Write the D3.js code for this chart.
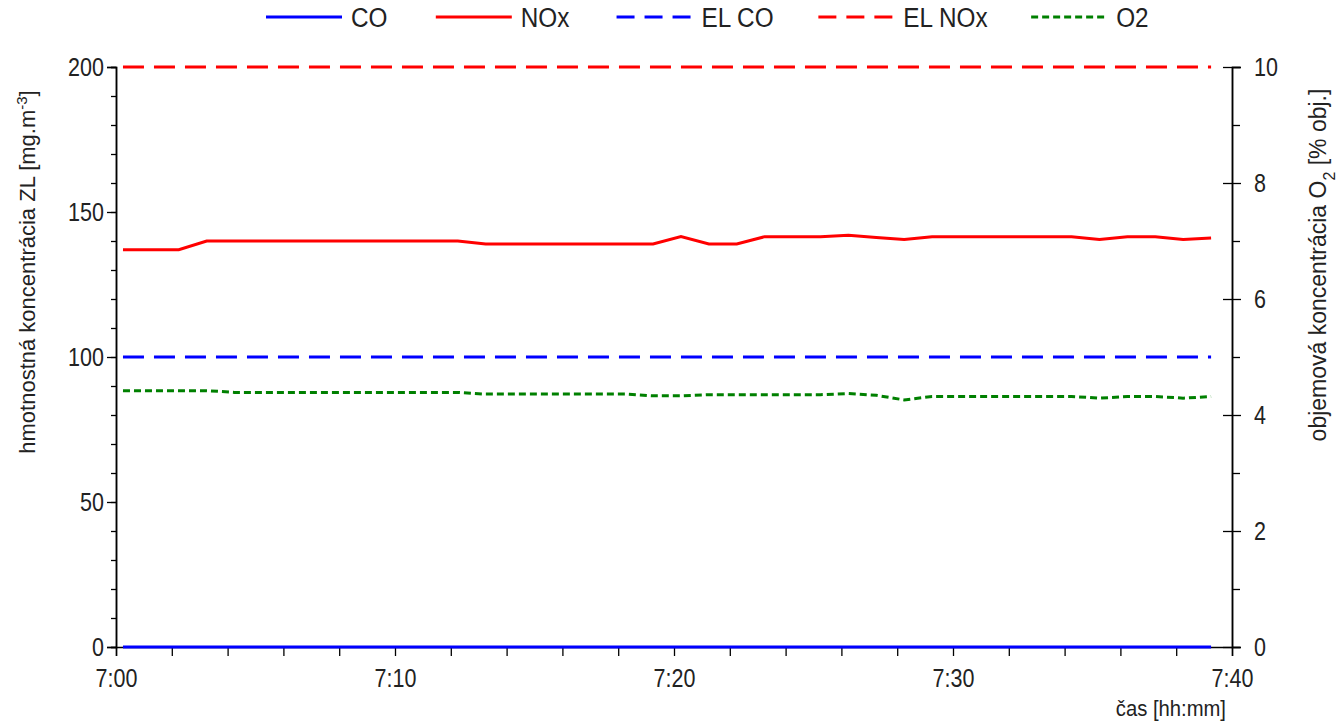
<!DOCTYPE html>
<html>
<head>
<meta charset="utf-8">
<script src="https://cdn.jsdelivr.net/npm/d3@7"></script>
<style>
  body { margin: 0; background: #fff; }
  svg text { font-family: "Liberation Sans Narrow", "Arial Narrow", "Liberation Sans", Arial, sans-serif; fill: #222; }
</style>
</head>
<body>
<svg id="chart" width="1338" height="724"></svg>
<script>
'use strict';

// Measurement times (one reading per minute)
var times = [
    '7:00:15', '7:01:15', '7:02:15', '7:03:15', '7:04:15', '7:05:15', '7:06:15', '7:07:15',
    '7:08:15', '7:09:15', '7:10:15', '7:11:15', '7:12:15', '7:13:15', '7:14:15', '7:15:15',
    '7:16:15', '7:17:15', '7:18:15', '7:19:15', '7:20:15', '7:21:15', '7:22:15', '7:23:15',
    '7:24:15', '7:25:15', '7:26:15', '7:27:15', '7:28:15', '7:29:15', '7:30:15', '7:31:15',
    '7:32:15', '7:33:15', '7:34:15', '7:35:15', '7:36:15', '7:37:15', '7:38:15', '7:39:15'
];

// CO [mg.m-3]
var co = [
    0, 0, 0, 0, 0, 0, 0, 0, 0, 0, 0, 0, 0, 0, 0, 0, 0, 0, 0, 0,
    0, 0, 0, 0, 0, 0, 0, 0, 0, 0, 0, 0, 0, 0, 0, 0, 0, 0, 0, 0
];

// NOx [mg.m-3]
var nox = [
    137, 137, 137, 140, 140, 140, 140, 140, 140, 140,
    140, 140, 140, 139, 139, 139, 139, 139, 139, 139,
    141.5, 139, 139, 141.5, 141.5, 141.5, 142, 141.2, 140.5, 141.5,
    141.5, 141.5, 141.5, 141.5, 141.5, 140.5, 141.5, 141.5, 140.5, 141
];

// O2 [% obj.]
var o2 = [
    4.42, 4.42, 4.42, 4.42, 4.39, 4.39, 4.39, 4.39, 4.39, 4.39,
    4.39, 4.39, 4.39, 4.36, 4.36, 4.36, 4.36, 4.36, 4.36, 4.33,
    4.33, 4.35, 4.35, 4.35, 4.35, 4.35, 4.37, 4.34, 4.26, 4.32,
    4.32, 4.32, 4.32, 4.32, 4.32, 4.29, 4.32, 4.32, 4.29, 4.32
];

// Emission limits
var elCO = 100,
    elNOx = 200;

var legendNames = ['CO', 'NOx', 'EL CO', 'EL NOx', 'O2'];

var leftTicks = [0, 50, 100, 150, 200],
    rightTicks = [0, 2, 4, 6, 8, 10];


var parseTime = d3.timeParse('%H:%M:%S'),
    fmt = d3.timeFormat('%-H:%M');

var svg = d3.select('#chart');

var x = d3.scaleTime()
    .domain([parseTime('7:00:00'), parseTime('7:40:00')])
    .range([116, 1232]);

var yL = d3.scaleLinear().domain([0, 200]).range([647, 67]),
    yR = d3.scaleLinear().domain([0, 10]).range([647, 67]);

var tDates = times.map(parseTime);

var styles = {
    'CO': { color: '#0000ff', dash: null, width: 3 },
    'NOx': { color: '#ff0000', dash: null, width: 3 },
    'EL CO': { color: '#0000ff', dash: '21,10', width: 3 },
    'EL NOx': { color: '#ff0000', dash: '21,10', width: 3 },
    'O2': { color: '#008000', dash: '7,4', width: 3 }
};


/**
 * No narrow font is installed, so squeeze text horizontally.
 */
function squeeze(sel, k) {
    sel.each(function () {
        var len = this.getComputedTextLength();
        if (len > 0) {
            d3.select(this)
                .attr('textLength', len * k)
                .attr('lengthAdjust', 'spacingAndGlyphs');
        }
    });
}


function drawSeries(values, yScale, name) {
    var st = styles[name];
    var line = d3.line()
        .x(function (d, i) { return x(tDates[i]); })
        .y(function (d) { return yScale(d); });

    svg.append('path')
        .datum(values)
        .attr('d', line)
        .attr('fill', 'none')
        .attr('stroke', st.color)
        .attr('stroke-width', st.width)
        .attr('stroke-dasharray', st.dash);
}


// Axes
var fontSize = '25px',
    narrow = 0.86;

svg.append('g')
    .attr('transform', 'translate(0,' + yL(0) + ')')
    .call(d3.axisBottom(x)
        .ticks(d3.timeMinute.every(2))
        .tickSize(9)
        .tickPadding(13)
        .tickFormat(function (d) { return d.getMinutes() % 10 === 0 ? fmt(d) : ''; }));

svg.append('g')
    .attr('transform', 'translate(' + x.range()[0] + ',0)')
    .call(d3.axisLeft(yL).tickValues(d3.range(0, 201, 10)).tickSize(5).tickFormat(''));

svg.append('g')
    .attr('transform', 'translate(' + x.range()[0] + ',0)')
    .call(d3.axisLeft(yL).tickValues(leftTicks).tickSize(9).tickPadding(3));

svg.append('g')
    .attr('transform', 'translate(' + x.range()[1] + ',0)')
    .call(d3.axisRight(yR).tickValues(d3.range(1, 10, 2)).tickSize(8).tickFormat(''));

var rightAxis = svg.append('g')
    .attr('transform', 'translate(' + x.range()[1] + ',0)')
    .call(d3.axisRight(yR).tickValues(rightTicks).tickSize(9).tickPadding(13));

rightAxis.selectAll('.tick line').attr('x1', -9);

svg.selectAll('g').attr('font-family', null).attr('font-size', null);
svg.selectAll('.domain').attr('stroke', '#000').attr('stroke-width', 1.5);
svg.selectAll('.tick line').attr('stroke', '#000').attr('stroke-width', 1.3);
svg.selectAll('.tick text')
    .attr('font-size', fontSize)
    .attr('fill', '#222')
    .call(squeeze, narrow);


// Limit lines
var limitLine = function (value, name) {
    var st = styles[name];
    svg.append('line')
        .attr('x1', x(tDates[0]))
        .attr('x2', x(tDates[tDates.length - 1]))
        .attr('y1', yL(value))
        .attr('y2', yL(value))
        .attr('stroke', st.color)
        .attr('stroke-width', st.width)
        .attr('stroke-dasharray', st.dash);
};

limitLine(elNOx, 'EL NOx');
limitLine(elCO, 'EL CO');
drawSeries(o2, yR, 'O2');
drawSeries(nox, yL, 'NOx');
drawSeries(co, yL, 'CO');


// Axis titles
var leftTitle = svg.append('text')
    .attr('transform', 'translate(35,272) rotate(-90)')
    .attr('text-anchor', 'middle')
    .attr('font-size', '22px');
leftTitle.append('tspan').text('hmotnostná koncentrácia ZL [mg.m');
leftTitle.append('tspan').attr('baseline-shift', 'super').attr('font-size', '15px').text('-3');
leftTitle.append('tspan').text(']');

var rightTitle = svg.append('text')
    .attr('transform', 'translate(1326,265) rotate(-90)')
    .attr('text-anchor', 'middle')
    .attr('font-size', '23px');
rightTitle.append('tspan').text('objemová koncentrácia O');
rightTitle.append('tspan').attr('baseline-shift', 'sub').attr('font-size', '16px').text('2');
rightTitle.append('tspan').text(' [% obj.]');

svg.append('text')
    .attr('x', 1226)
    .attr('y', 716)
    .attr('text-anchor', 'end')
    .attr('font-size', '22px')
    .text('čas [hh:mm]')
    .call(squeeze, 0.92);


// Legend
var legend = svg.append('g').attr('transform', 'translate(266,17)'),
    legendSqueeze = 0.9,
    lx = 0;

legendNames.forEach(function (name) {
    var st = styles[name];
    legend.append('line')
        .attr('x1', lx)
        .attr('x2', lx + 76)
        .attr('stroke', st.color)
        .attr('stroke-width', st.width)
        .attr('stroke-dasharray', name === 'O2' ? st.dash : (st.dash ? '18,10' : null));

    var t = legend.append('text')
        .attr('x', lx + 85)
        .attr('y', 9.5)
        .attr('font-size', '27px')
        .text(name)
        .call(squeeze, legendSqueeze);

    lx += 85 + t.node().getComputedTextLength() * legendSqueeze + 52;
});
</script>
</body>
</html>
